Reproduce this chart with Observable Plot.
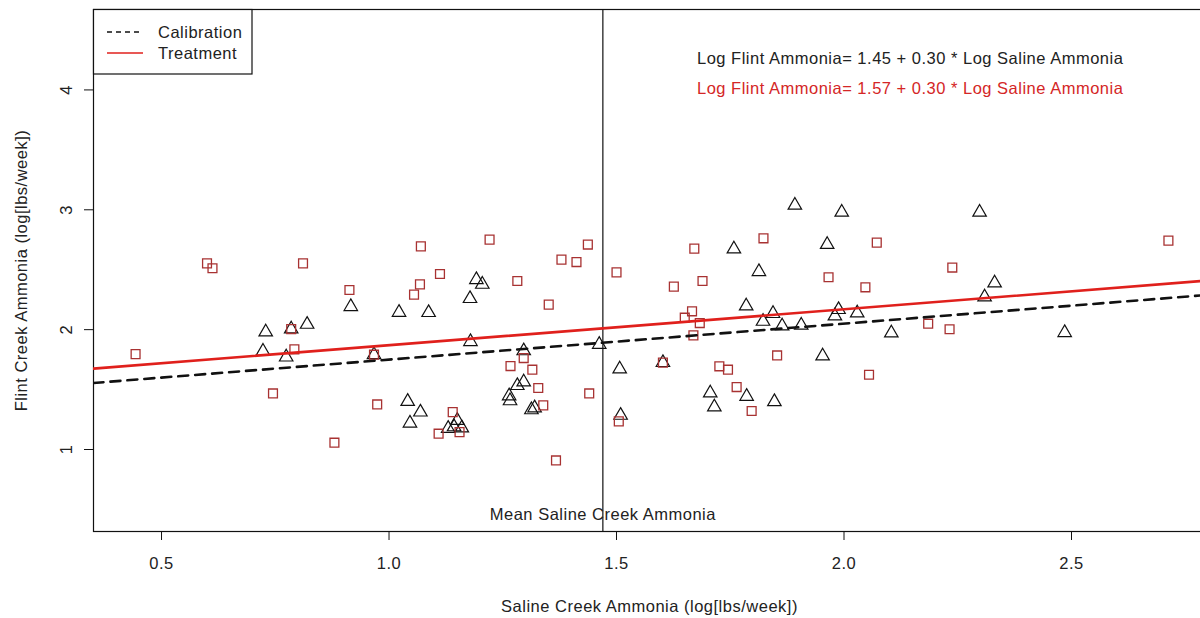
<!DOCTYPE html>
<html><head><meta charset="utf-8">
<script src="https://cdn.jsdelivr.net/npm/d3@7"></script>
<script src="https://cdn.jsdelivr.net/npm/@observablehq/plot@0.6"></script>
<style>
html,body{margin:0;padding:0;background:#fff;overflow:hidden;}
#chart svg{display:block;}
</style></head><body><div id="chart"></div>
<script>
// Calibration period (triangles)
const calibX = [0.729,0.723,0.774,0.785,0.820,0.916,1.022,0.967,1.041,1.046,
  1.087,1.192,1.205,1.178,1.179,1.296,1.282,1.296,1.264,1.266,1.313,1.320,1.462,1.507,1.602,1.509,1.706,1.715,
  1.069,1.130,1.143,1.150,1.160,
  1.892,1.995,2.298,1.758,1.963,1.813,2.331,2.309,1.785,1.844,1.822,1.864,1.906,1.988,1.980,2.029,2.104,1.953,1.786,1.847,2.485];
const calibY = [1.980,1.819,1.771,2.005,2.044,2.192,2.144,1.791,1.401,1.220,
  2.142,2.417,2.378,2.259,1.900,1.823,1.533,1.563,1.447,1.406,1.331,1.347,1.877,1.671,1.725,1.285,1.471,1.354,
  1.312,1.176,1.189,1.243,1.180,
  3.038,2.979,2.979,2.673,2.710,2.484,2.389,2.272,2.197,2.134,2.069,2.030,2.036,2.167,2.114,2.139,1.972,1.780,1.443,1.399,1.975];
// Treatment period (squares)
const treatX = [0.443,0.600,0.612,0.811,0.913,0.785,0.792,0.745,0.974,0.880,0.967,
  1.055,1.068,1.070,1.112,1.221,1.282,1.351,1.379,1.412,1.437,1.500,1.626,1.671,1.689,1.666,1.650,1.683,1.669,1.602,
  1.267,1.296,1.315,1.328,1.339,1.440,1.367,1.140,1.109,1.155,1.505,
  1.823,2.072,2.238,1.966,2.047,2.185,2.232,1.853,1.726,1.745,1.764,1.797,2.055,2.713];
const treatY = [1.796,2.553,2.512,2.553,2.331,2.005,1.836,1.468,1.376,1.057,1.791,
  2.292,2.378,2.695,2.464,2.751,2.406,2.209,2.584,2.564,2.710,2.478,2.359,2.676,2.406,2.153,2.100,2.055,1.952,1.725,
  1.696,1.763,1.666,1.513,1.368,1.468,0.909,1.312,1.132,1.145,1.235,
  2.762,2.726,2.518,2.437,2.353,2.050,2.003,1.785,1.694,1.666,1.521,1.321,1.624,2.743];

const seriesNames = ["Calibration", "Treatment"];
const intercepts = [1.45, 1.57];
const slopes = [0.30, 0.30];
const meanSaline = 1.47;
const xTicks = [0.5, 1.0, 1.5, 2.0, 2.5];
const yTicks = [1, 2, 3, 4];
const xLimits = [0.3505, 2.7945];
const yLimits = [0.316, 4.671];

const lineColors = ["#111111", "#e0201c"];
const pointColors = ["#111111", "#a83232"];
const textColors = ["#222222", "#d42626"];

const calib = calibX.map((x, i) => ({x, y: calibY[i]}));
const treat = treatX.map((x, i) => ({x, y: treatY[i]}));
const fitLines = seriesNames.flatMap((s, i) => xLimits.map(x => ({series: s, x, y: intercepts[i] + slopes[i] * x})));
const equations = intercepts.map((a, i) => `Log Flint Ammonia= ${a.toFixed(2)} + ${slopes[i].toFixed(2)} * Log Saline Ammonia`);

const font = "'Liberation Sans', Arial, sans-serif";
const plot = Plot.plot({
  width: 1200,
  height: 618,
  marginLeft: 93,
  marginRight: -5,
  marginTop: 9,
  marginBottom: 87,
  style: {fontFamily: font, fontSize: "16.5px", color: "#222", background: "#fff", overflow: "hidden", letterSpacing: "0.5px"},
  x: {domain: xLimits},
  y: {domain: yLimits},
  marks: [
    Plot.frame({stroke: "#111", strokeWidth: 1.2}),
    Plot.axisX({ticks: xTicks, tickSize: 9, tickPadding: 17, tickFormat: d3.format(".1f"), label: null, stroke: "#111", fill: "#222"}),
    Plot.axisY({ticks: yTicks, tickSize: 9, tickFormat: () => "", label: null, stroke: "#111"}),
    Plot.text(yTicks, {y: d => d, text: d => String(d), frameAnchor: "left", dx: -27, rotate: -90, textAnchor: "middle", lineAnchor: "middle", fill: "#222"}),
    Plot.text(["Flint Creek Ammonia (log[lbs/week])"], {text: d => d, frameAnchor: "left", dx: -72, rotate: -90, textAnchor: "middle", lineAnchor: "middle", fill: "#222"}),
    Plot.text(["Saline Creek Ammonia (log[lbs/week])"], {text: d => d, frameAnchor: "bottom", dy: 75, textAnchor: "middle", lineAnchor: "middle", fill: "#222"}),
    Plot.ruleX([meanSaline], {stroke: "#111", strokeWidth: 1.2}),
    Plot.text(["Mean Saline Creek Ammonia"], {x: () => meanSaline, text: d => d, frameAnchor: "bottom", dy: -17, textAnchor: "middle", lineAnchor: "middle", fill: "#222"}),
    Plot.dot(calib, {x: "x", y: "y", symbol: "triangle", r: 5, stroke: pointColors[0], fill: "none", strokeWidth: 1.2}),
    Plot.dot(treat, {x: "x", y: "y", symbol: "square", r: 5, stroke: pointColors[1], fill: "none", strokeWidth: 1.3}),
    Plot.line(fitLines.filter(d => d.series === seriesNames[1]), {x: "x", y: "y", stroke: lineColors[1], strokeWidth: 2.6, clip: true}),
    Plot.line(fitLines.filter(d => d.series === seriesNames[0]), {x: "x", y: "y", stroke: lineColors[0], strokeWidth: 2.6, strokeDasharray: "10,7", clip: true}),
    Plot.text([equations[0]], {text: d => d, frameAnchor: "top-left", dx: 603.5, dy: 49, textAnchor: "start", lineAnchor: "middle", fill: textColors[0]}),
    Plot.text([equations[1]], {text: d => d, frameAnchor: "top-left", dx: 603.5, dy: 79, textAnchor: "start", lineAnchor: "middle", fill: textColors[1]})
  ]
});
document.getElementById("chart").appendChild(plot);

// Legend box (top-left corner of the plot region)
const svg = d3.select(plot);
const lg = svg.append("g").attr("font-family", font).attr("font-size", 16.5).attr("letter-spacing", "0.5px").attr("text-anchor", "start");
lg.append("rect").attr("x", 93.5).attr("y", 9.5).attr("width", 158.5).attr("height", 64.5).attr("fill", "#fff").attr("stroke", "#111").attr("stroke-width", 1.2);
const legendRows = [
  {name: seriesNames[0], color: lineColors[0], dash: "5,4"},
  {name: seriesNames[1], color: lineColors[1], dash: null}
];
legendRows.forEach((r, i) => {
  const yy = 32 + i * 21;
  const ln = lg.append("line").attr("x1", 107).attr("x2", 143).attr("y1", yy).attr("y2", yy).attr("stroke", r.color).attr("stroke-width", 1.3);
  if (r.dash) ln.attr("stroke-dasharray", r.dash);
  lg.append("text").attr("x", 158).attr("y", yy).attr("dy", "0.35em").attr("text-anchor", "start").attr("fill", "#222").text(r.name);
});
</script>
</body></html>
